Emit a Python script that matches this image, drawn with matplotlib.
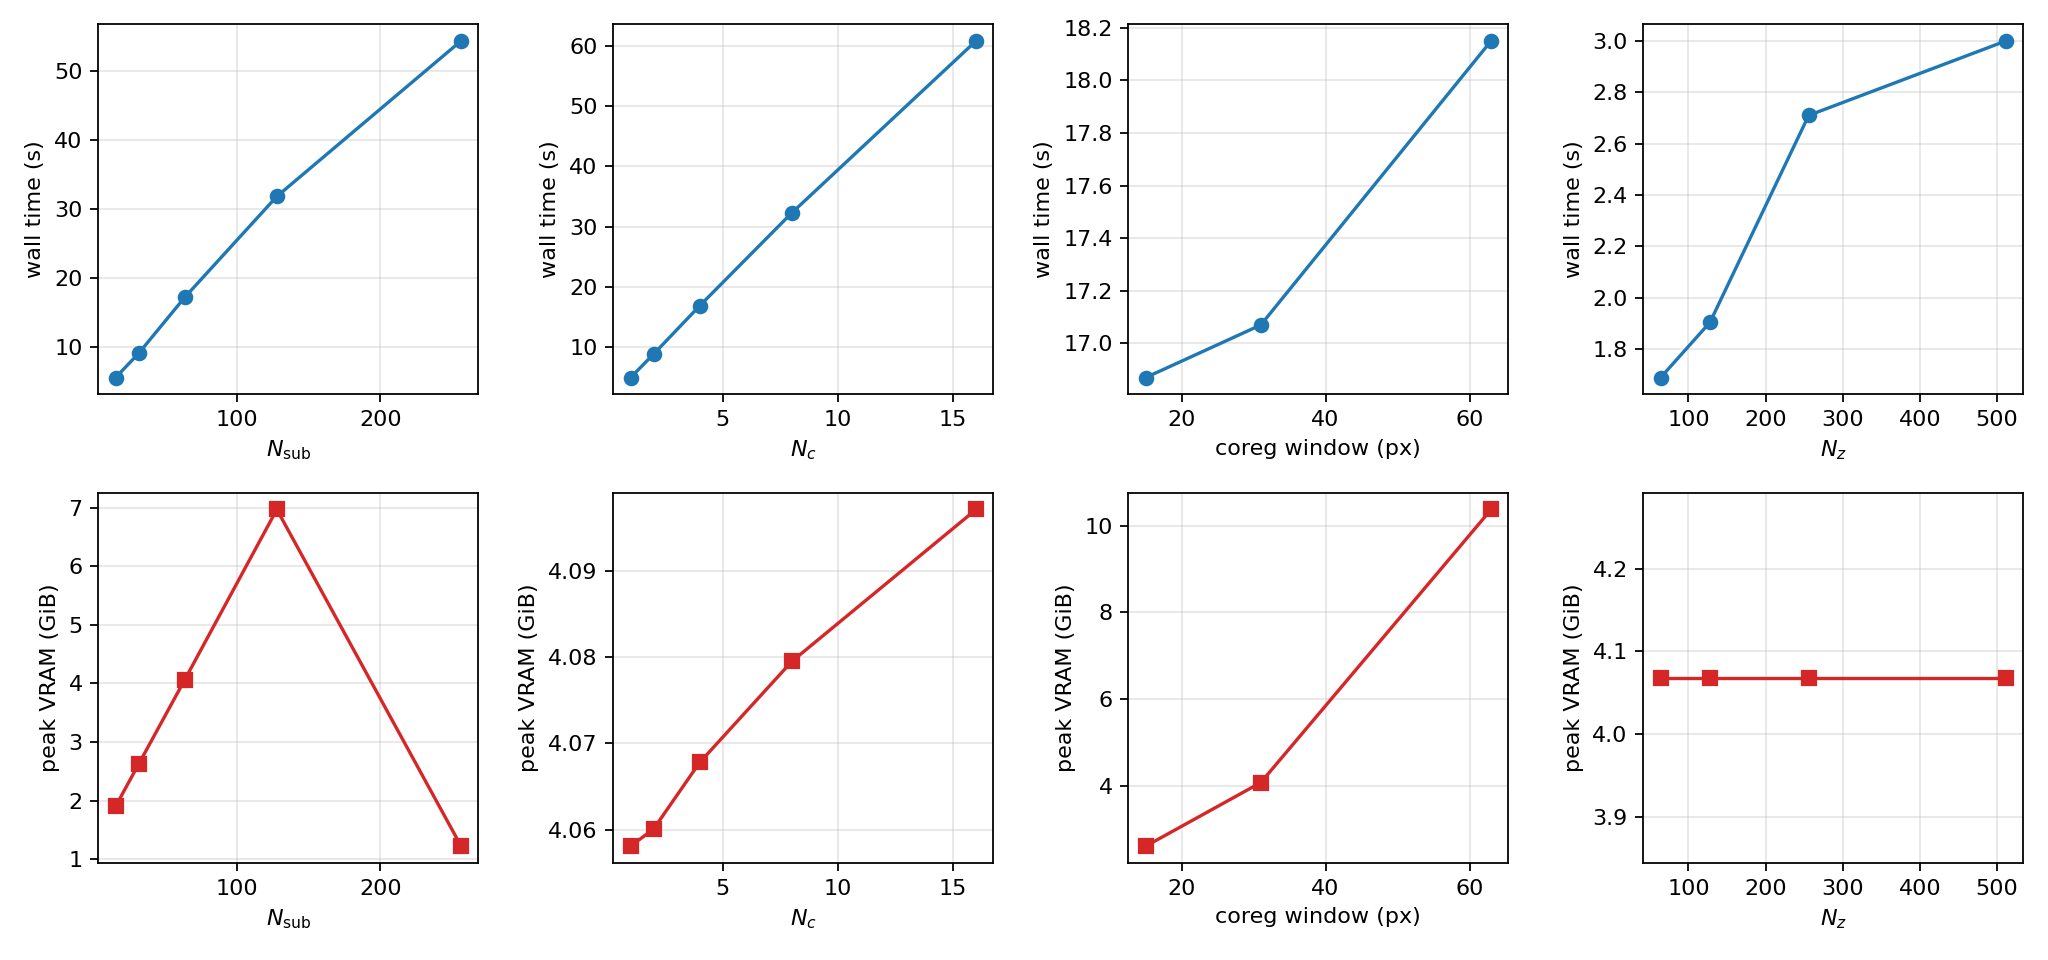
import numpy as np
import matplotlib
matplotlib.use('Agg')
import matplotlib.pyplot as plt

# sweep values
n_sub = [16, 32, 64, 128, 256]
n_c = [1, 2, 4, 8, 16]
coreg_win = [15, 31, 63]
n_z = [64, 128, 256, 512]

# wall time (s)
wall_nsub = [5.6, 9.1, 17.2, 31.8, 54.3]
wall_nc = [5.0, 8.9, 16.9, 32.3, 60.8]
wall_coreg = [16.87, 17.07, 18.15]
wall_nz = [1.69, 1.905, 2.71, 3.0]

# peak VRAM (GiB)
vram_nsub = [1.9, 2.62, 4.06, 6.97, 1.22]
vram_nc = [4.0581, 4.0601, 4.0678, 4.0795, 4.0971]
vram_coreg = [2.6, 4.07, 10.38]
vram_nz = [4.068, 4.068, 4.068, 4.068]

xs = [n_sub, n_c, coreg_win, n_z]
xlabels = [r'$N_{\mathrm{sub}}$', r'$N_c$', 'coreg window (px)', r'$N_z$']
walls = [wall_nsub, wall_nc, wall_coreg, wall_nz]
vrams = [vram_nsub, vram_nc, vram_coreg, vram_nz]

fig, axes = plt.subplots(2, 4, figsize=(12.8, 6), dpi=160)

for i in range(4):
    ax = axes[0, i]
    ax.plot(xs[i], walls[i], 'o-', color='tab:blue')
    ax.set_xlabel(xlabels[i])
    ax.set_ylabel('wall time (s)')
    ax.grid(alpha=0.3)

    ax = axes[1, i]
    ax.plot(xs[i], vrams[i], 's-', color='tab:red')
    ax.set_xlabel(xlabels[i])
    ax.set_ylabel('peak VRAM (GiB)')
    ax.grid(alpha=0.3)

fig.subplots_adjust(left=0.048, right=0.988, top=0.975, bottom=0.101,
                    wspace=0.355, hspace=0.265)
fig.savefig('out.png', dpi=160)
